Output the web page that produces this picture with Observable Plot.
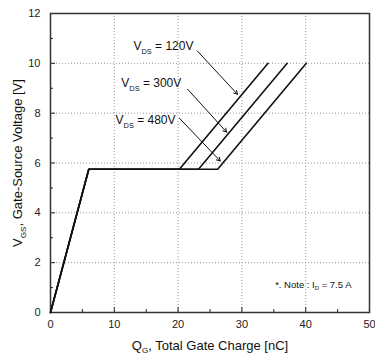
<!DOCTYPE html>
<html><head><meta charset="utf-8">
<script src="https://cdn.jsdelivr.net/npm/d3@7"></script>
<script src="https://cdn.jsdelivr.net/npm/@observablehq/plot@0.6"></script>
<style>
body{margin:0;background:#fff;}
svg{font-family:"Liberation Sans Narrow","Liberation Sans",Arial,sans-serif;}
</style></head>
<body><div id="chart"></div>
<script>
const seriesNames = ["120V", "300V", "480V"];
const qgPoints = [[0, 6, 20.2, 34.1], [0, 6, 23.2, 37.1], [0, 6, 26.2, 40.1]];
const vgsPoints = [[0, 5.75, 5.75, 10], [0, 5.75, 5.75, 10], [0, 5.75, 5.75, 10]];
const labelText = ["V_{DS} = 120V", "V_{DS} = 300V", "V_{DS} = 480V"];
const labelX = [22.4, 20.5, 19.6];
const labelY = [10.68, 9.2, 7.72];
const arrowX1 = [23.0, 21.5, 20.2];
const arrowY1 = [10.5, 8.96, 7.8];
const arrowX2 = [29.3, 27.6, 26.6];
const arrowY2 = [8.76, 7.24, 6.08];
const xTicks = [0, 10, 20, 30, 40, 50];
const xMinor = [5, 15, 25, 35, 45];
const yTicks = [0, 2, 4, 6, 8, 10, 12];
const yMinor = [1, 3, 5, 7, 9, 11];
const noteText = "*. Note : I_{D} = 7.5 A";

const rows = [];
seriesNames.forEach((s, i) => qgPoints[i].forEach((q, j) => rows.push({series: s, qg: q, vgs: vgsPoints[i][j]})));
const labels = labelText.map((t, i) => ({t, x: labelX[i], y: labelY[i]}));
const arrows = arrowX1.map((x, i) => ({x1: x, y1: arrowY1[i], x2: arrowX2[i], y2: arrowY2[i]}));

const plot = Plot.plot({
  width: 375, height: 362,
  marginLeft: 50, marginRight: 6, marginTop: 13, marginBottom: 50,
  x: {domain: [0, 50]},
  y: {domain: [0, 12]},
  style: {fontFamily: '"Liberation Sans Narrow","Liberation Sans",Arial,sans-serif', color: "#222"},
  marks: [
    Plot.gridX({ticks: [10, 20, 30, 40], stroke: "#999", strokeOpacity: 1, strokeDasharray: "1,2"}),
    Plot.gridY({ticks: [2, 4, 6, 8, 10], stroke: "#999", strokeOpacity: 1, strokeDasharray: "1,2"}),
    Plot.axisX({ticks: xTicks, tickSize: -5, tickFormat: () => null, label: null}),
    Plot.axisX({ticks: xMinor, tickSize: -3, tickFormat: () => null, label: null}),
    Plot.axisX({ticks: xTicks, tickSize: 0, tickPadding: 8, fontSize: 11, label: null}),
    Plot.axisY({ticks: yTicks, tickSize: -5, tickFormat: () => null, label: null}),
    Plot.axisY({ticks: yMinor, tickSize: -3, tickFormat: () => null, label: null}),
    Plot.axisY({ticks: yTicks, tickSize: 0, tickPadding: 10, fontSize: 11, label: null}),
    Plot.frame({stroke: "#333", strokeWidth: 1.5}),
    Plot.line(rows, {x: "qg", y: "vgs", z: "series", stroke: "#111", strokeWidth: 1.6}),
    Plot.arrow(arrows, {x1: "x1", y1: "y1", x2: "x2", y2: "y2", stroke: "#111", strokeWidth: 1, headLength: 6, bend: false}),
    Plot.text(labels, {x: "x", y: "y", text: "t", textAnchor: "end", fontSize: 12, fill: "#111"}),
    Plot.text([noteText], {frameAnchor: "bottom-right", textAnchor: "end", dx: -18, dy: -25, fontSize: 9.5, fill: "#111"}),
    Plot.text(["Q_{G}, Total Gate Charge [nC]"], {frameAnchor: "bottom", textAnchor: "middle", dy: 37, fontSize: 13, fill: "#111"}),
    Plot.text(["V_{GS}, Gate-Source Voltage [V]"], {frameAnchor: "left", textAnchor: "middle", rotate: -90, dx: -33, fontSize: 13, fill: "#111"})
  ]
});

// subscripts: turn "_{..}" into real subscript tspans
plot.querySelectorAll("text").forEach(el => {
  const s = el.textContent;
  if (!s.includes("_{")) return;
  const parts = s.split(/(_\{[^}]*\})/);
  while (el.firstChild) el.removeChild(el.firstChild);
  const fs = parseFloat(el.getAttribute("font-size") || el.closest("[font-size]")?.getAttribute("font-size") || 12);
  let shifted = false;
  parts.forEach(p => {
    if (!p) return;
    const ts = document.createElementNS("http://www.w3.org/2000/svg", "tspan");
    if (p.startsWith("_{")) {
      ts.textContent = p.slice(2, -1);
      ts.setAttribute("font-size", (fs * 0.62).toFixed(1));
      ts.setAttribute("dy", (fs * 0.3).toFixed(1));
      shifted = true;
    } else {
      ts.textContent = p;
      if (shifted) { ts.setAttribute("dy", (-fs * 0.3).toFixed(1)); shifted = false; }
    }
    el.appendChild(ts);
  });
});
document.getElementById("chart").appendChild(plot);
</script></body></html>
